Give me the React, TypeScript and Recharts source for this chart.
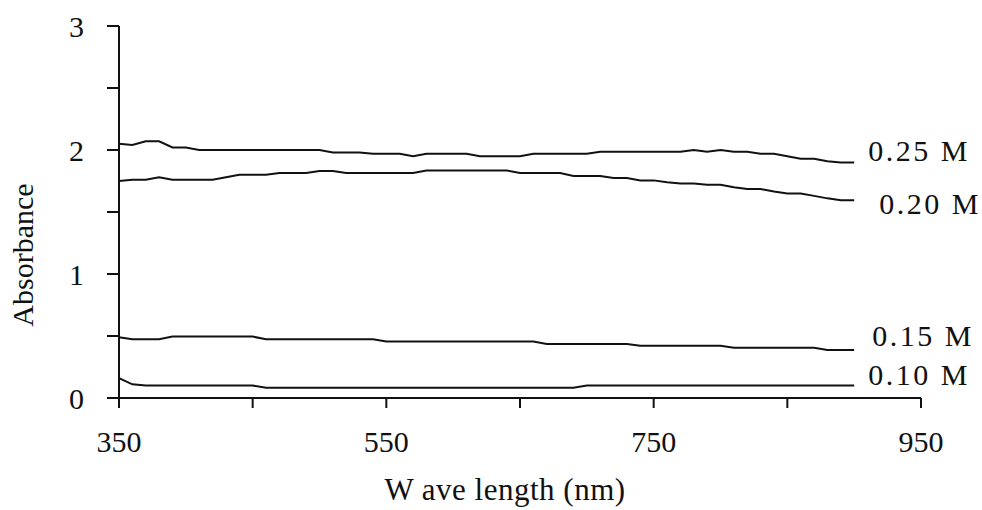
import { Label, Line, LineChart, XAxis, YAxis } from "recharts";

// wavelength samples (nm)
const wavelengths = [
  350, 360, 370, 380, 390, 400, 410, 420, 430, 440, 450, 460, 470, 480,
  490, 500, 510, 520, 530, 540, 550, 560, 570, 580, 590, 600, 610, 620,
  630, 640, 650, 660, 670, 680, 690, 700, 710, 720, 730, 740, 750, 760,
  770, 780, 790, 800, 810, 820, 830, 840, 850, 860, 870, 880, 890, 900,
];

const abs025 = [
  2.05, 2.04, 2.07, 2.07, 2.02, 2.02, 2.0, 2.0, 2.0, 2.0, 2.0, 2.0, 2.0, 2.0,
  2.0, 2.0, 1.98, 1.98, 1.98, 1.97, 1.97, 1.97, 1.95, 1.97, 1.97, 1.97, 1.97, 1.95,
  1.95, 1.95, 1.95, 1.97, 1.97, 1.97, 1.97, 1.97, 1.985, 1.985, 1.985, 1.985, 1.985, 1.985,
  1.985, 2.0, 1.985, 2.0, 1.985, 1.985, 1.97, 1.97, 1.95, 1.93, 1.93, 1.91, 1.9, 1.9,
];

const abs020 = [
  1.75, 1.76, 1.76, 1.78, 1.76, 1.76, 1.76, 1.76, 1.78, 1.8, 1.8, 1.8, 1.815, 1.815,
  1.815, 1.83, 1.83, 1.815, 1.815, 1.815, 1.815, 1.815, 1.815, 1.835, 1.835, 1.835, 1.835, 1.835,
  1.835, 1.835, 1.815, 1.815, 1.815, 1.815, 1.79, 1.79, 1.79, 1.775, 1.775, 1.755, 1.755, 1.74,
  1.73, 1.73, 1.72, 1.72, 1.7, 1.685, 1.685, 1.665, 1.65, 1.65, 1.63, 1.61, 1.595, 1.595,
];

const abs015 = [
  0.49, 0.474, 0.474, 0.474, 0.495, 0.495, 0.495, 0.495, 0.495, 0.495, 0.495, 0.474, 0.474, 0.474,
  0.474, 0.474, 0.474, 0.474, 0.474, 0.474, 0.455, 0.455, 0.455, 0.455, 0.455, 0.455, 0.455, 0.455,
  0.455, 0.455, 0.455, 0.455, 0.436, 0.436, 0.436, 0.436, 0.436, 0.436, 0.436, 0.422, 0.422, 0.422,
  0.422, 0.422, 0.422, 0.422, 0.406, 0.406, 0.406, 0.406, 0.406, 0.406, 0.406, 0.388, 0.388, 0.388,
];

const abs010 = [
  0.16, 0.11, 0.1, 0.1, 0.1, 0.1, 0.1, 0.1, 0.1, 0.1, 0.1, 0.083, 0.083, 0.083,
  0.083, 0.083, 0.083, 0.083, 0.083, 0.083, 0.083, 0.083, 0.083, 0.083, 0.083, 0.083, 0.083, 0.083,
  0.083, 0.083, 0.083, 0.083, 0.083, 0.083, 0.083, 0.1, 0.1, 0.1, 0.1, 0.1, 0.1, 0.1,
  0.1, 0.1, 0.1, 0.1, 0.1, 0.1, 0.1, 0.1, 0.1, 0.1, 0.1, 0.1, 0.1, 0.1,
];

const xTicks = [350, 450, 550, 650, 750, 850, 950];
const xLabelled = [350, 550, 750, 950];
const yTicks = [0, 0.5, 1, 1.5, 2, 2.5, 3];

// dx/dy: where the end label sits relative to the last point (baseline)
const series = [
  { key: "c025", name: "0.25 M", values: abs025, dx: 14, dy: -1 },
  { key: "c020", name: "0.20 M", values: abs020, dx: 25, dy: 14 },
  { key: "c015", name: "0.15 M", values: abs015, dx: 18, dy: -4 },
  { key: "c010", name: "0.10 M", values: abs010, dx: 14, dy: -1 },
];

const data = wavelengths.map((w, i) => {
  const row: Record<string, number> = { w };
  series.forEach((s) => (row[s.key] = s.values[i]));
  return row;
});

const FONT = "'Liberation Serif', 'Times New Roman', serif";
const INK = "#111";

function endLabel(name: string, dx: number, dy: number) {
  const last = wavelengths.length - 1;
  return (props: any) => {
    if (props.index !== last) return null;
    return (
      <text
        x={props.x + dx}
        y={props.y + dy}
        fontFamily={FONT}
        fontSize={30}
        letterSpacing={2.5}
        fill={INK}
      >
        {name}
      </text>
    );
  };
}

export default function App() {
  return (
    <div style={{ width: 982, height: 510, background: "#fff" }}>
      <style>{"body{margin:0}"}</style>
      <LineChart width={982} height={510} data={data} margin={{ top: 26, right: 61, left: 0, bottom: 0 }}>
        <XAxis
          dataKey="w"
          type="number"
          domain={[350, 950]}
          ticks={xTicks}
          tickFormatter={(v) => (xLabelled.includes(v) ? String(v) : "")}
          height={112}
          tickSize={10}
          tickMargin={23}
          stroke={INK}
          strokeWidth={2}
          tick={{ fontFamily: FONT, fontSize: 30, fill: INK }}
        >
          <Label
            content={() => (
              <text x={505} y={500} textAnchor="middle" fontFamily={FONT} fontSize={31} letterSpacing={0.5} fill={INK}>
                W ave length (nm)
              </text>
            )}
          />
        </XAxis>
        <YAxis
          type="number"
          domain={[0, 3]}
          ticks={yTicks}
          tickFormatter={(v) => (Number.isInteger(v) ? String(v) : "")}
          width={119}
          tickSize={12}
          tickMargin={23}
          stroke={INK}
          strokeWidth={2}
          tick={{ fontFamily: FONT, fontSize: 30, fill: INK }}
        >
          <Label
            content={() => (
              <text
                x={33}
                y={255}
                transform="rotate(-90 33 255)"
                textAnchor="middle"
                fontFamily={FONT}
                fontSize={30}
                fill={INK}
              >
                Absorbance
              </text>
            )}
          />
        </YAxis>
        {series.map((s) => (
          <Line
            key={s.key}
            dataKey={s.key}
            type="linear"
            stroke={INK}
            strokeWidth={2}
            dot={false}
            isAnimationActive={false}
            label={endLabel(s.name, s.dx, s.dy)}
          />
        ))}
      </LineChart>
    </div>
  );
}
